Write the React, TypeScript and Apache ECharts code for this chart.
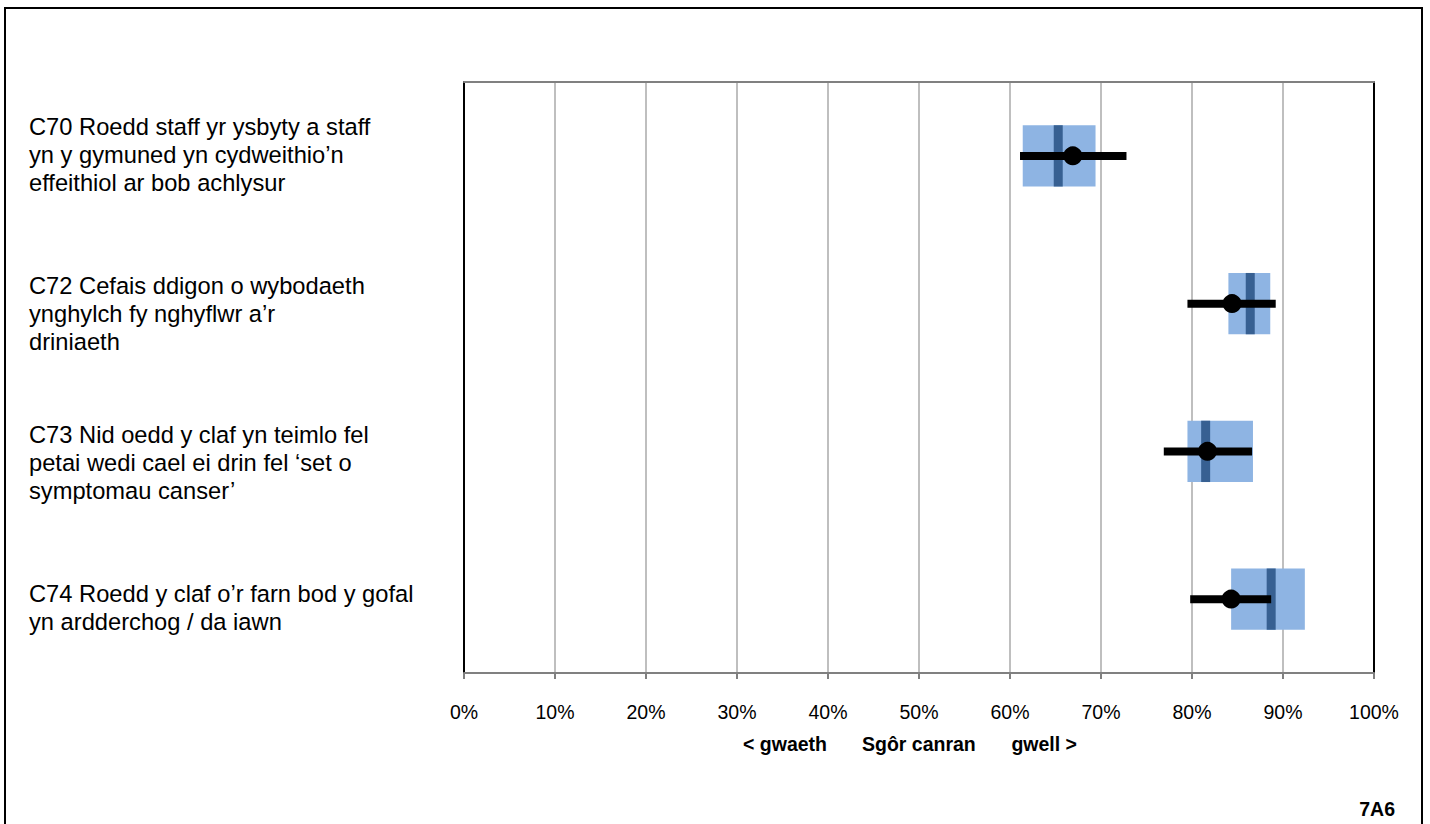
import React, { useEffect, useRef } from 'react';
import * as echarts from 'echarts';

const categories = [
  'C70 Roedd staff yr ysbyty a staff\nyn y gymuned yn cydweithio’n\neffeithiol ar bob achlysur',
  'C72 Cefais ddigon o wybodaeth\nynghylch fy nghyflwr a’r\ndriniaeth',
  'C73 Nid oedd y claf yn teimlo fel\npetai wedi cael ei drin fel ‘set o\nsymptomau canser’',
  'C74 Roedd y claf o’r farn bod y gofal\nyn ardderchog / da iawn',
];
// light blue range box
const boxLow = [61.4, 84.0, 79.5, 84.3];
const boxHigh = [69.4, 88.6, 86.7, 92.4];
// dark marker inside box
const markerValue = [65.3, 86.4, 81.5, 88.7];
// score dot and its interval
const scoreValue = [66.9, 84.4, 81.7, 84.3];
const ciLow = [61.1, 79.5, 76.9, 79.8];
const ciHigh = [72.8, 89.2, 86.6, 88.7];
const tickValues = [0, 10, 20, 30, 40, 50, 60, 70, 80, 90, 100];

const FONT = '"Liberation Sans", Arial, sans-serif';
const labelOffsetY = [-1, 10, 12, 9];

export default function App() {
  const ref = useRef<HTMLDivElement>(null);
  useEffect(() => {
    const chart = echarts.init(ref.current!, null, { renderer: 'svg' });
    const option: any = {
      animation: false,
      backgroundColor: '#ffffff',
      grid: { left: 464, right: 56, top: 82, bottom: 151, containLabel: false },
      xAxis: [
        {
          type: 'value',
          min: tickValues[0],
          max: tickValues[tickValues.length - 1],
          interval: 10,
          position: 'bottom',
          axisLine: { show: true, onZero: false, lineStyle: { color: '#808080', width: 2 } },
          axisTick: { show: true, length: 6, lineStyle: { color: '#808080', width: 2 } },
          axisLabel: {
            formatter: '{value}%',
            fontSize: 19.5,
            fontFamily: FONT,
            color: '#000',
            margin: 29,
          },
          splitLine: { show: true, lineStyle: { color: '#BFBFBF', width: 2 } },
        },
        {
          type: 'value',
          min: 0,
          max: 100,
          interval: 10,
          position: 'top',
          axisLine: { show: true, onZero: false, lineStyle: { color: '#808080', width: 2 } },
          axisTick: { show: false },
          axisLabel: { show: false },
          splitLine: { show: false },
        },
      ],
      yAxis: [
        {
          type: 'category',
          data: categories,
          inverse: true,
          position: 'left',
          axisLine: { show: true, onZero: false, lineStyle: { color: '#000', width: 2 } },
          axisTick: { show: false },
          axisLabel: { show: false },
          splitLine: { show: false },
        },
        {
          type: 'category',
          data: categories,
          inverse: true,
          position: 'right',
          axisLine: { show: true, onZero: false, lineStyle: { color: '#000', width: 2 } },
          axisTick: { show: false },
          axisLabel: { show: false },
          splitLine: { show: false },
        },
      ],
      series: [
        {
          type: 'custom',
          name: 'range',
          xAxisIndex: 0,
          yAxisIndex: 0,
          encode: { x: [1, 2], y: 0 },
          data: categories.map((_, i) => [i, boxLow[i], boxHigh[i]]),
          renderItem: (params: any, api: any) => {
            const c = api.value(0);
            const p1 = api.coord([api.value(1), c]);
            const p2 = api.coord([api.value(2), c]);
            const h = api.size([0, 1])[1] * 0.415;
            return {
              type: 'rect',
              shape: { x: p1[0], y: p1[1] - h / 2, width: p2[0] - p1[0], height: h },
              style: { fill: '#8EB4E3' },
            };
          },
        },
        {
          type: 'custom',
          name: 'marker',
          xAxisIndex: 0,
          yAxisIndex: 0,
          encode: { x: 1, y: 0 },
          data: categories.map((_, i) => [i, markerValue[i]]),
          renderItem: (params: any, api: any) => {
            const p = api.coord([api.value(1), api.value(0)]);
            const h = api.size([0, 1])[1] * 0.415;
            const w = 9;
            return {
              type: 'rect',
              shape: { x: p[0] - w / 2, y: p[1] - h / 2, width: w, height: h },
              style: { fill: '#376092' },
            };
          },
        },
        {
          type: 'custom',
          name: 'interval',
          xAxisIndex: 0,
          yAxisIndex: 0,
          encode: { x: [1, 2], y: 0 },
          data: categories.map((_, i) => [i, ciLow[i], ciHigh[i]]),
          renderItem: (params: any, api: any) => {
            const c = api.value(0);
            const p1 = api.coord([api.value(1), c]);
            const p2 = api.coord([api.value(2), c]);
            return {
              type: 'line',
              shape: { x1: p1[0], y1: p1[1], x2: p2[0], y2: p2[1] },
              style: { stroke: '#000', lineWidth: 8, lineCap: 'butt' },
            };
          },
        },
        {
          type: 'scatter',
          name: 'score',
          xAxisIndex: 0,
          yAxisIndex: 0,
          symbol: 'circle',
          symbolSize: 19,
          itemStyle: { color: '#000', opacity: 1 },
          data: categories.map((_, i) => [scoreValue[i], i]),
        },
      ],
    };
    chart.setOption(option);

    const labelTexts = categories.map((c, i) => {
      const y = chart.convertToPixel({ yAxisIndex: 0 }, c) as unknown as number;
      return {
        type: 'text',
        x: 29,
        y: y + labelOffsetY[i],
        style: {
          text: c,
          fontSize: 23.7,
          lineHeight: 28,
          fontFamily: FONT,
          fill: '#000',
          align: 'left',
          verticalAlign: 'middle',
        },
      };
    });

    const titleStyle = {
      fontSize: 19.5,
      fontWeight: 'bold',
      fontFamily: FONT,
      fill: '#000',
      verticalAlign: 'middle',
    };

    chart.setOption({
      graphic: [
        {
          type: 'rect',
          shape: { x: 5, y: 8, width: 1417, height: 840 },
          style: { fill: 'none', stroke: '#000', lineWidth: 2 },
          silent: true,
        },
        ...labelTexts,
        { type: 'text', x: 743, y: 744, style: { ...titleStyle, text: '< gwaeth', align: 'left' } },
        { type: 'text', x: 862, y: 744, style: { ...titleStyle, text: 'Sgôr canran', align: 'left' } },
        { type: 'text', x: 1077, y: 744, style: { ...titleStyle, text: 'gwell >', align: 'right' } },
        { type: 'text', x: 1395, y: 809, style: { ...titleStyle, text: '7A6', align: 'right' } },
      ],
    });

    return () => chart.dispose();
  }, []);
  return (
    <div
      ref={ref}
      style={{ position: 'fixed', left: 0, top: 0, width: 1430, height: 824 }}
    />
  );
}
